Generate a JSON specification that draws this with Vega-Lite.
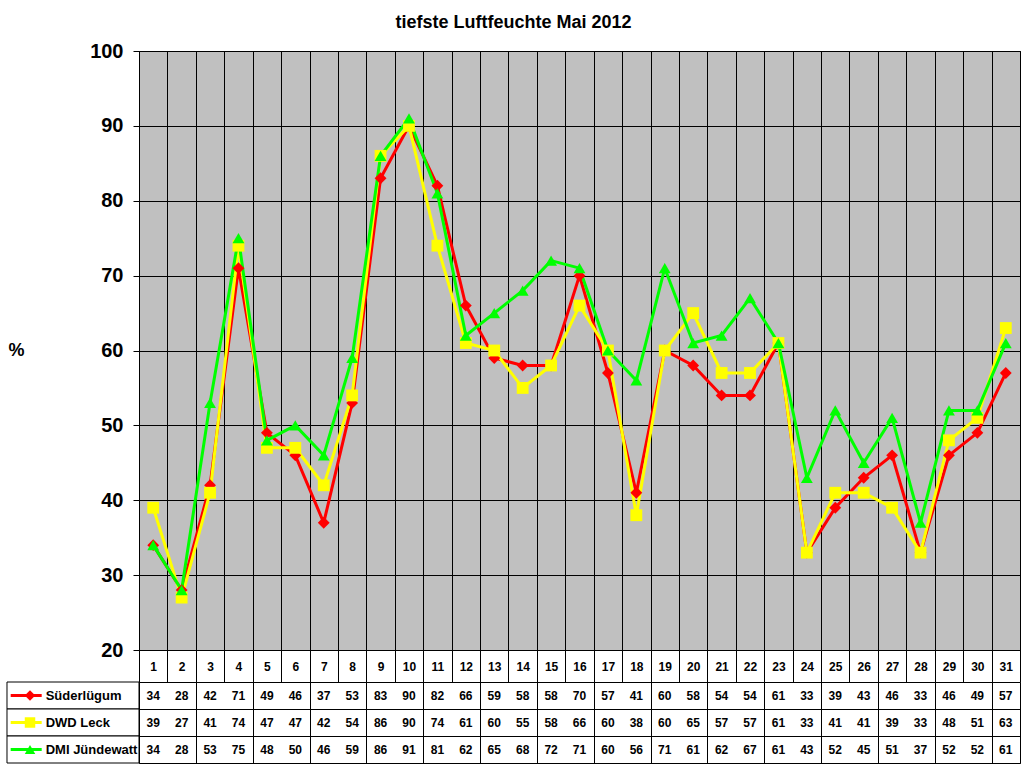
{
"$schema": "https://vega.github.io/schema/vega-lite/v6.json",
"padding": {"left": 5, "right": 4, "top": 13, "bottom": 6},
"background": "white",
"bounds": "flush",
"spacing": 32,
"config": {"font": "Liberation Sans", "view": {"stroke": "black", "strokeWidth": 1}},
"title": {"text": "tiefste Luftfeuchte Mai 2012", "fontSize": 18, "fontWeight": "bold", "color": "black", "anchor": "middle", "offset": 9},
"resolve": {"scale": {"x": "independent", "y": "independent"}},
"datasets": {"d": [
{"day":1,"series":"Süderlügum","value":34},{"day":2,"series":"Süderlügum","value":28},{"day":3,"series":"Süderlügum","value":42},{"day":4,"series":"Süderlügum","value":71},{"day":5,"series":"Süderlügum","value":49},{"day":6,"series":"Süderlügum","value":46},{"day":7,"series":"Süderlügum","value":37},{"day":8,"series":"Süderlügum","value":53},{"day":9,"series":"Süderlügum","value":83},{"day":10,"series":"Süderlügum","value":90},{"day":11,"series":"Süderlügum","value":82},{"day":12,"series":"Süderlügum","value":66},{"day":13,"series":"Süderlügum","value":59},{"day":14,"series":"Süderlügum","value":58},{"day":15,"series":"Süderlügum","value":58},{"day":16,"series":"Süderlügum","value":70},{"day":17,"series":"Süderlügum","value":57},{"day":18,"series":"Süderlügum","value":41},{"day":19,"series":"Süderlügum","value":60},{"day":20,"series":"Süderlügum","value":58},{"day":21,"series":"Süderlügum","value":54},{"day":22,"series":"Süderlügum","value":54},{"day":23,"series":"Süderlügum","value":61},{"day":24,"series":"Süderlügum","value":33},{"day":25,"series":"Süderlügum","value":39},{"day":26,"series":"Süderlügum","value":43},{"day":27,"series":"Süderlügum","value":46},{"day":28,"series":"Süderlügum","value":33},{"day":29,"series":"Süderlügum","value":46},{"day":30,"series":"Süderlügum","value":49},{"day":31,"series":"Süderlügum","value":57},
{"day":1,"series":"DWD Leck","value":39},{"day":2,"series":"DWD Leck","value":27},{"day":3,"series":"DWD Leck","value":41},{"day":4,"series":"DWD Leck","value":74},{"day":5,"series":"DWD Leck","value":47},{"day":6,"series":"DWD Leck","value":47},{"day":7,"series":"DWD Leck","value":42},{"day":8,"series":"DWD Leck","value":54},{"day":9,"series":"DWD Leck","value":86},{"day":10,"series":"DWD Leck","value":90},{"day":11,"series":"DWD Leck","value":74},{"day":12,"series":"DWD Leck","value":61},{"day":13,"series":"DWD Leck","value":60},{"day":14,"series":"DWD Leck","value":55},{"day":15,"series":"DWD Leck","value":58},{"day":16,"series":"DWD Leck","value":66},{"day":17,"series":"DWD Leck","value":60},{"day":18,"series":"DWD Leck","value":38},{"day":19,"series":"DWD Leck","value":60},{"day":20,"series":"DWD Leck","value":65},{"day":21,"series":"DWD Leck","value":57},{"day":22,"series":"DWD Leck","value":57},{"day":23,"series":"DWD Leck","value":61},{"day":24,"series":"DWD Leck","value":33},{"day":25,"series":"DWD Leck","value":41},{"day":26,"series":"DWD Leck","value":41},{"day":27,"series":"DWD Leck","value":39},{"day":28,"series":"DWD Leck","value":33},{"day":29,"series":"DWD Leck","value":48},{"day":30,"series":"DWD Leck","value":51},{"day":31,"series":"DWD Leck","value":63},
{"day":1,"series":"DMI Jündewatt","value":34},{"day":2,"series":"DMI Jündewatt","value":28},{"day":3,"series":"DMI Jündewatt","value":53},{"day":4,"series":"DMI Jündewatt","value":75},{"day":5,"series":"DMI Jündewatt","value":48},{"day":6,"series":"DMI Jündewatt","value":50},{"day":7,"series":"DMI Jündewatt","value":46},{"day":8,"series":"DMI Jündewatt","value":59},{"day":9,"series":"DMI Jündewatt","value":86},{"day":10,"series":"DMI Jündewatt","value":91},{"day":11,"series":"DMI Jündewatt","value":81},{"day":12,"series":"DMI Jündewatt","value":62},{"day":13,"series":"DMI Jündewatt","value":65},{"day":14,"series":"DMI Jündewatt","value":68},{"day":15,"series":"DMI Jündewatt","value":72},{"day":16,"series":"DMI Jündewatt","value":71},{"day":17,"series":"DMI Jündewatt","value":60},{"day":18,"series":"DMI Jündewatt","value":56},{"day":19,"series":"DMI Jündewatt","value":71},{"day":20,"series":"DMI Jündewatt","value":61},{"day":21,"series":"DMI Jündewatt","value":62},{"day":22,"series":"DMI Jündewatt","value":67},{"day":23,"series":"DMI Jündewatt","value":61},{"day":24,"series":"DMI Jündewatt","value":43},{"day":25,"series":"DMI Jündewatt","value":52},{"day":26,"series":"DMI Jündewatt","value":45},{"day":27,"series":"DMI Jündewatt","value":51},{"day":28,"series":"DMI Jündewatt","value":37},{"day":29,"series":"DMI Jündewatt","value":52},{"day":30,"series":"DMI Jündewatt","value":52},{"day":31,"series":"DMI Jündewatt","value":61}
]},
"vconcat": [
{
"width": 881, "height": 599,
"view": {"fill": "#C0C0C0", "stroke": "black"},
"data": {"name": "d"},
"encoding": {
"x": {"field": "day", "type": "ordinal", "bandPosition": 0.5, "scale": {"type": "band", "paddingInner": 0, "paddingOuter": 0},
 "axis": {"title": null, "tickBand": "extent", "grid": true, "gridColor": "black", "gridOpacity": 1, "gridWidth": 1, "ticks": true, "tickColor": "black", "tickSize": 32, "tickWidth": 1, "domain": true, "domainColor": "black", "labelFontSize": 12, "labelFontWeight": "bold", "labelColor": "black", "labelAngle": 0, "labelBaseline": "middle", "labelPadding": -16}},
"y": {"field": "value", "type": "quantitative", "scale": {"domain": [20, 100], "nice": false, "zero": false},
 "axis": {"values": [20, 30, 40, 50, 60, 70, 80, 90, 100], "grid": true, "gridColor": "black", "gridOpacity": 1, "gridWidth": 1, "domain": true, "domainColor": "black", "ticks": true, "tickColor": "black", "tickSize": 6, "labelFontSize": 20, "labelFontWeight": "bold", "labelColor": "black", "labelPadding": 10, "title": "%", "titleAngle": 0, "titleFontSize": 18, "titleFontWeight": "bold", "titleColor": "black", "titleX": -123, "titleY": 299.5, "titleAlign": "center", "titleBaseline": "middle"}},
"color": {"field": "series", "type": "nominal", "scale": {"domain": ["Süderlügum", "DWD Leck", "DMI Jündewatt"], "range": ["#FF0000", "#FFFF00", "#00FF00"]}, "legend": null}
},
"layer": [
{"mark": {"type": "line", "strokeWidth": 3}},
{"mark": {"type": "point", "filled": true, "opacity": 1, "size": 140},
 "encoding": {"shape": {"field": "series", "type": "nominal", "scale": {"domain": ["Süderlügum", "DWD Leck", "DMI Jündewatt"], "range": ["diamond", "square", "triangle-up"]}, "legend": null}}}
]
},
{
"width": 881, "height": 81,
"view": {"fill": "white", "stroke": "black"},
"data": {"name": "d"},
"layer": [
{"mark": {"type": "text", "fontSize": 12, "fontWeight": "bold", "color": "black"},
 "encoding": {
 "x": {"field": "day", "type": "quantitative", "scale": {"domain": [0.5, 31.5], "nice": false, "zero": false},
  "axis": {"values": [0.5,1.5,2.5,3.5,4.5,5.5,6.5,7.5,8.5,9.5,10.5,11.5,12.5,13.5,14.5,15.5,16.5,17.5,18.5,19.5,20.5,21.5,22.5,23.5,24.5,25.5,26.5,27.5,28.5,29.5,30.5,31.5], "title": null, "labels": false, "ticks": false, "domain": false, "grid": true, "gridColor": "black", "gridOpacity": 1, "gridWidth": 1}},
 "y": {"field": "series", "type": "nominal", "scale": {"type": "band", "domain": ["Süderlügum", "DWD Leck", "DMI Jündewatt"], "paddingInner": 0, "paddingOuter": 0},
  "axis": {"title": null, "labels": false, "ticks": false, "domain": false, "grid": true, "gridColor": "black", "gridOpacity": 1, "tickBand": "extent"}},
 "text": {"field": "value", "type": "quantitative"}
 }},
{"transform": [{"filter": "datum.day == 1"}],
 "mark": {"type": "rect", "fill": "white", "stroke": "black", "strokeWidth": 1},
 "encoding": {"x": {"datum": -4.145}, "x2": {"datum": 0.5}, "y": {"field": "series", "type": "nominal"}}},
{"transform": [{"filter": "datum.day == 1"}],
 "mark": {"type": "rule", "strokeWidth": 3},
 "encoding": {"x": {"datum": -4.015}, "x2": {"datum": -2.924}, "y": {"field": "series", "type": "nominal"},
  "color": {"field": "series", "type": "nominal", "scale": {"domain": ["Süderlügum", "DWD Leck", "DMI Jündewatt"], "range": ["#FF0000", "#FFFF00", "#00FF00"]}, "legend": null}}},
{"transform": [{"filter": "datum.day == 1"}],
 "mark": {"type": "point", "filled": true, "opacity": 1, "size": 110},
 "encoding": {"x": {"datum": -3.335}, "y": {"field": "series", "type": "nominal"},
  "color": {"field": "series", "type": "nominal", "scale": {"domain": ["Süderlügum", "DWD Leck", "DMI Jündewatt"], "range": ["#FF0000", "#FFFF00", "#00FF00"]}, "legend": null},
  "shape": {"field": "series", "type": "nominal", "scale": {"domain": ["Süderlügum", "DWD Leck", "DMI Jündewatt"], "range": ["diamond", "square", "triangle-up"]}, "legend": null}}},
{"transform": [{"filter": "datum.day == 1"}],
 "mark": {"type": "text", "align": "left", "fontSize": 13, "fontWeight": "bold", "color": "black"},
 "encoding": {"x": {"datum": -2.783}, "y": {"field": "series", "type": "nominal"}, "text": {"field": "series", "type": "nominal"}}}
]
}
]
}
